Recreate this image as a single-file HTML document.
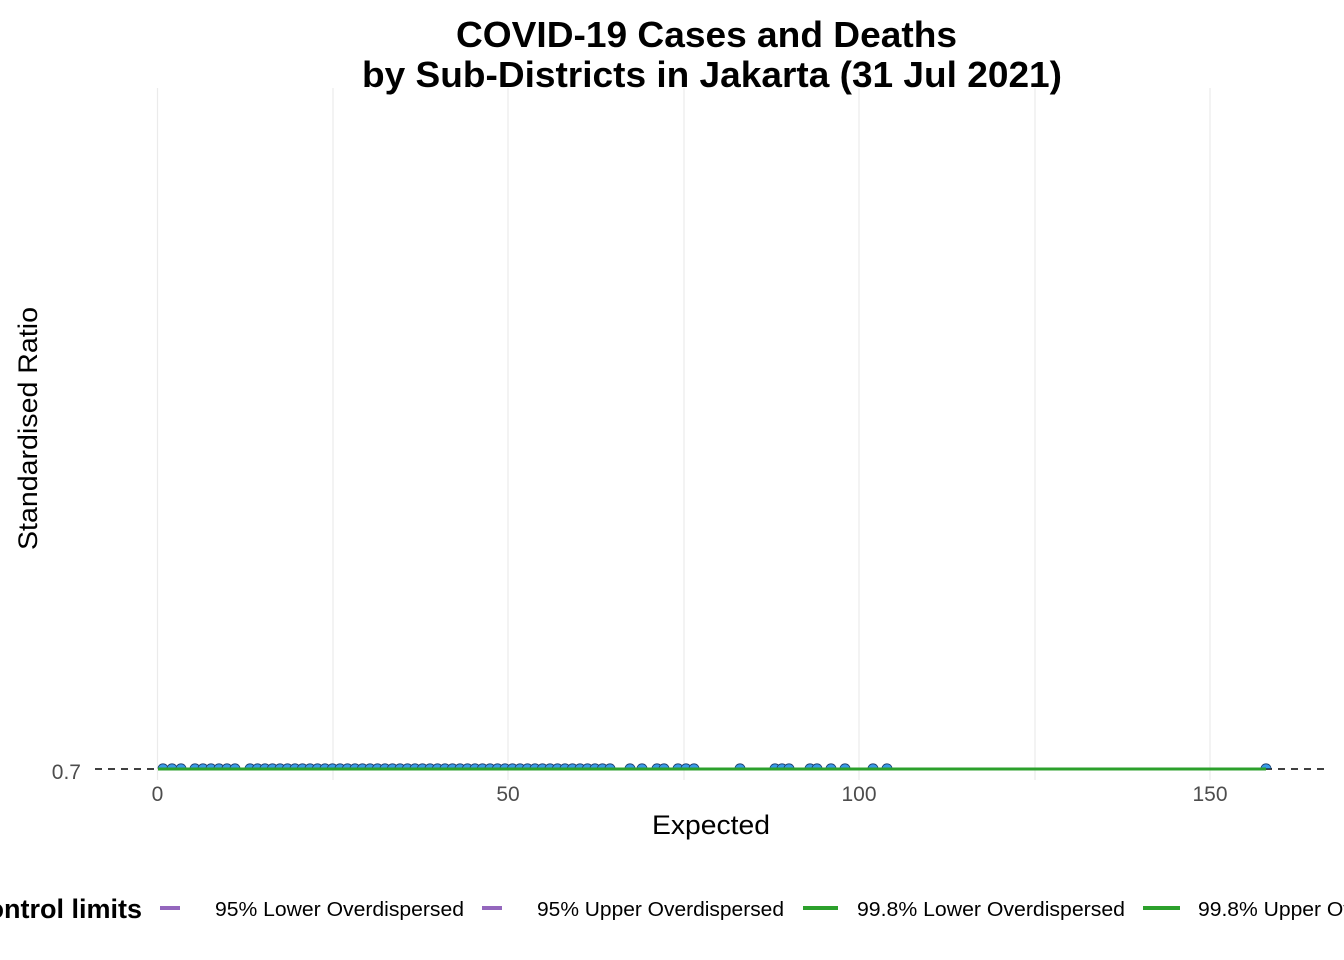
<!DOCTYPE html>
<html><head><meta charset="utf-8"><style>
html,body{margin:0;padding:0;background:#fff;}
svg{display:block;font-family:"Liberation Sans",sans-serif;}
</style></head><body>
<svg width="1344" height="960" viewBox="0 0 1344 960">
<defs><clipPath id="c"><rect x="90" y="88" width="1250" height="680.5"/></clipPath></defs>
<g stroke="#ebebeb" stroke-width="1.2">
<line x1="157.5" y1="88" x2="157.5" y2="780"/>
<line x1="333" y1="88" x2="333" y2="780"/>
<line x1="508" y1="88" x2="508" y2="780"/>
<line x1="684" y1="88" x2="684" y2="780"/>
<line x1="859" y1="88" x2="859" y2="780"/>
<line x1="1035" y1="88" x2="1035" y2="780"/>
<line x1="1210" y1="88" x2="1210" y2="780"/>
</g>
<line x1="95" y1="769" x2="1330" y2="769" stroke="#000" stroke-width="1.5" stroke-dasharray="7,6"/>
<g clip-path="url(#c)" fill="#3a9ae8" stroke="#1a3d6a" stroke-width="0.8" id="pts"></g>
<line x1="158" y1="769" x2="1266" y2="769" stroke="#2ca02c" stroke-width="3"/>
<text x="81" y="779" font-size="21" fill="#4d4d4d" text-anchor="end">0.7</text>
<g font-size="21" fill="#4d4d4d" text-anchor="middle">
<text x="157.5" y="801">0</text><text x="508" y="801">50</text><text x="859" y="801">100</text><text x="1210" y="801">150</text>
</g>
<text x="652" y="834" font-size="27" textLength="118" lengthAdjust="spacingAndGlyphs">Expected</text>
<text transform="translate(37,550) rotate(-90)" font-size="27" textLength="243" lengthAdjust="spacingAndGlyphs">Standardised Ratio</text>
<g font-size="36" font-weight="bold">
<text x="456" y="47" textLength="501" lengthAdjust="spacingAndGlyphs">COVID-19 Cases and Deaths</text>
<text x="362" y="87" textLength="700" lengthAdjust="spacingAndGlyphs">by Sub-Districts in Jakarta (31 Jul 2021)</text>
</g>
<text x="142" y="918" font-size="27" font-weight="bold" text-anchor="end">Control limits</text>
<g stroke-width="4">
<line x1="160" y1="908" x2="180" y2="908" stroke="#9467bd"/>
<line x1="482" y1="908" x2="502" y2="908" stroke="#9467bd"/>
<line x1="803" y1="908" x2="838" y2="908" stroke="#2ca02c"/>
<line x1="1143" y1="908" x2="1180" y2="908" stroke="#2ca02c"/>
</g>
<g font-size="20">
<text x="215" y="916" textLength="249" lengthAdjust="spacingAndGlyphs">95% Lower Overdispersed</text>
<text x="537" y="916" textLength="247" lengthAdjust="spacingAndGlyphs">95% Upper Overdispersed</text>
<text x="857" y="916" textLength="268" lengthAdjust="spacingAndGlyphs">99.8% Lower Overdispersed</text>
<text x="1198" y="916" textLength="266" lengthAdjust="spacingAndGlyphs">99.8% Upper Overdispersed</text>
</g>
</svg>
<script>
var g=document.getElementById('pts'),xs=[];
function r(a,b,s){for(var x=a;x<=b;x+=s)xs.push(x);}
r(163,181,9);r(195,235,8);r(250,614,7.5);r(630,642,12);r(657,664,7);r(678,698,8);
xs.push(740,775,782,789,810,817,831,845,873,887,1266);
xs.forEach(function(x){var c=document.createElementNS('http://www.w3.org/2000/svg','circle');c.setAttribute('cx',x);c.setAttribute('cy',769);c.setAttribute('r',5.2);g.appendChild(c);});
</script>
</body></html>
